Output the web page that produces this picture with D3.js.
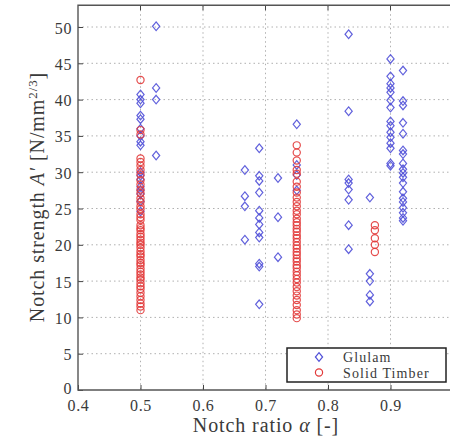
<!DOCTYPE html>
<html><head><meta charset="utf-8">
<script src="https://cdn.jsdelivr.net/npm/d3@7"></script>
<style>body{margin:0;background:#fff}svg{display:block}</style>
</head><body><div id="c"></div>
<script>
const xTicks = [0.4, 0.5, 0.6, 0.7, 0.8, 0.9];
const yTicks = [0, 5, 10, 15, 20, 25, 30, 35, 40, 45, 50];
const glulamAlpha = [0.5, 0.525, 0.667, 0.69, 0.72, 0.75, 0.833, 0.867, 0.9, 0.92];
const glulamStrength = [
  [40.7, 40.0, 39.5, 37.8, 37.3, 36.0, 35.0, 34.2, 33.7, 30.0, 29.5, 29.0, 28.0, 27.5, 27.0, 26.0, 24.6],
  [50.1, 41.6, 40.0, 32.3],
  [30.3, 26.7, 25.3, 20.7],
  [33.3, 29.5, 28.8, 27.2, 24.7, 23.7, 22.8, 21.7, 21.0, 17.4, 17.0, 11.8],
  [29.2, 23.8, 18.3],
  [36.6, 31.0, 29.6, 27.5],
  [49.0, 38.4, 29.0, 28.5, 27.6, 26.2, 22.7, 19.4],
  [26.5, 16.0, 15.0, 13.1, 12.2],
  [45.6, 43.2, 42.2, 41.6, 41.0, 39.9, 38.9, 37.0, 36.4, 35.5, 34.8, 34.0, 33.3, 31.2, 30.9],
  [44.0, 39.8, 39.2, 36.8, 35.3, 33.0, 32.5, 31.2, 30.4, 29.9, 29.3, 28.5, 27.3, 26.4, 25.9, 25.1, 24.4, 23.7, 23.3]
];
const solidAlpha = [0.5, 0.75, 0.875];
const solidStrength = [
  [42.7, 35.8, 35.2, 31.9, 31.4, 30.9, 30.3, 29.7, 28.9, 28.3, 27.6, 27.1, 26.4, 25.9, 25.3, 24.9, 24.2, 23.8, 23.4, 22.7, 22.3, 22.0, 21.5, 21.1, 20.7, 20.3, 20.0, 19.6, 19.1, 18.7, 18.4, 17.9, 17.5, 17.2, 16.7, 16.3, 15.9, 15.5, 15.2, 14.7, 14.3, 13.9, 13.4, 12.9, 12.4, 11.9, 11.5, 11.0],
  [33.7, 32.7, 31.6, 30.3, 29.8, 28.7, 28.0, 27.2, 26.5, 25.9, 25.3, 24.7, 24.2, 23.6, 23.1, 22.7, 22.2, 21.8, 21.3, 20.9, 20.4, 19.9, 19.5, 19.0, 18.6, 18.1, 17.7, 17.2, 16.8, 16.3, 15.8, 15.3, 14.8, 14.2, 13.6, 13.0, 12.4, 11.7, 11.0, 10.4, 9.9],
  [22.7, 22.0, 20.9, 20.0, 19.0]
];
const seriesNames = ["Glulam", "Solid Timber"];

const W = 450, H = 440;
const svg = d3.select("#c").append("svg").attr("width", W).attr("height", H);
const x = d3.scaleLinear().domain([0.4, 1.0]).range([78, 453]);
const y = d3.scaleLinear().domain([0, 50]).range([390, 27]);
const yTop = y(53);
const blue = "#5050d8", red = "#e23a3a";
const serif = "'Liberation Serif','DejaVu Serif',serif";
const ink = "#3a3a3a";

// grid
const g = svg.append("g");
g.selectAll(".gx").data(xTicks.filter(d => d > 0.4)).enter().append("line")
  .attr("x1", d => x(d)).attr("x2", d => x(d)).attr("y1", yTop).attr("y2", y(0))
  .attr("stroke", "#b0b0b0").attr("stroke-width", 1).attr("stroke-dasharray", "1.5,3");
g.selectAll(".gy").data(yTicks.filter(d => d > 0)).enter().append("line")
  .attr("x1", x(0.4)).attr("x2", W).attr("y1", d => y(d)).attr("y2", d => y(d))
  .attr("stroke", "#b0b0b0").attr("stroke-width", 1).attr("stroke-dasharray", "1.5,3");

// axes
const xAxis = d3.axisBottom(x).tickValues(xTicks).tickSize(-5).tickPadding(10).tickFormat(d3.format(".1f"));
const yAxis = d3.axisLeft(y).tickValues(yTicks).tickSize(-5).tickPadding(6).tickFormat(d3.format("d"));
const ax = svg.append("g").attr("transform", `translate(0,${y(0)})`).call(xAxis);
const ay = svg.append("g").attr("transform", `translate(${x(0.4)},0)`).call(yAxis);
ax.select(".domain").remove(); ay.select(".domain").remove();
[ax, ay].forEach(a => {
  a.selectAll("text").attr("font-family", serif).attr("font-size", 16).attr("fill", ink)
    .attr("letter-spacing", 0.6);
  a.selectAll("line").attr("stroke", "#444");
});
ay.selectAll("text").attr("dy", d => d === 0 ? "0.2em" : "0.38em");
ax.selectAll("text").attr("dy", "0.68em");
// top ticks
svg.selectAll(".tt").data(xTicks.filter(d => d > 0.4)).enter().append("line")
  .attr("x1", d => x(d)).attr("x2", d => x(d)).attr("y1", yTop).attr("y2", yTop + 5)
  .attr("stroke", "#444");
// frame
svg.append("path").attr("d", `M${W},${yTop}H${x(0.4)}V${y(0)}H${W}`)
  .attr("fill", "none").attr("stroke", "#555").attr("stroke-width", 1.4);

// data points
const glulamPts = glulamAlpha.flatMap((a, i) => glulamStrength[i].map(v => [a, v]));
const solidPts = solidAlpha.flatMap((a, i) => solidStrength[i].map(v => [a, v]));
const diamond = (cx, cy) => `M${cx},${cy - 4.3}L${cx + 3.6},${cy}L${cx},${cy + 4.3}L${cx - 3.6},${cy}Z`;
svg.append("g").selectAll("path").data(glulamPts).enter().append("path")
  .attr("d", d => diamond(x(d[0]), y(d[1])))
  .attr("fill", "none").attr("stroke", blue).attr("stroke-width", 1.2).attr("opacity", 0.9);
svg.append("g").selectAll("circle").data(solidPts).enter().append("circle")
  .attr("cx", d => x(d[0])).attr("cy", d => y(d[1])).attr("r", 3.6)
  .attr("fill", "none").attr("stroke", red).attr("stroke-width", 1.2).attr("opacity", 0.9);

// legend
const lg = svg.append("g");
lg.append("rect").attr("x", 287).attr("y", 348).attr("width", 159).attr("height", 34)
  .attr("fill", "#fff").attr("stroke", "#222").attr("stroke-width", 1.5);
lg.append("path").attr("d", diamond(319, 357)).attr("fill", "none").attr("stroke", blue).attr("stroke-width", 1.2);
lg.append("circle").attr("cx", 319).attr("cy", 372.5).attr("r", 3.6).attr("fill", "none").attr("stroke", red).attr("stroke-width", 1.2);
lg.selectAll("text").data(seriesNames).enter().append("text")
  .attr("x", 343).attr("y", (d, i) => 361.5 + i * 16)
  .attr("font-family", serif).attr("font-size", 14).attr("letter-spacing", 1.1).attr("fill", ink).text(d => d);

// axis labels
svg.append("text").attr("x", 266).attr("y", 432).attr("text-anchor", "middle")
  .attr("font-family", serif).attr("font-size", 20).attr("letter-spacing", 0.9).attr("fill", ink)
  .html('Notch ratio <tspan font-style="italic">α</tspan> [-]');
svg.append("text").attr("transform", "translate(44,197) rotate(-90)").attr("text-anchor", "middle")
  .attr("font-family", serif).attr("font-size", 20).attr("letter-spacing", 0.9).attr("fill", ink)
  .html('Notch strength <tspan font-style="italic">A′</tspan> [N/mm<tspan baseline-shift="super" font-size="13">2/3</tspan>]');
</script></body></html>
